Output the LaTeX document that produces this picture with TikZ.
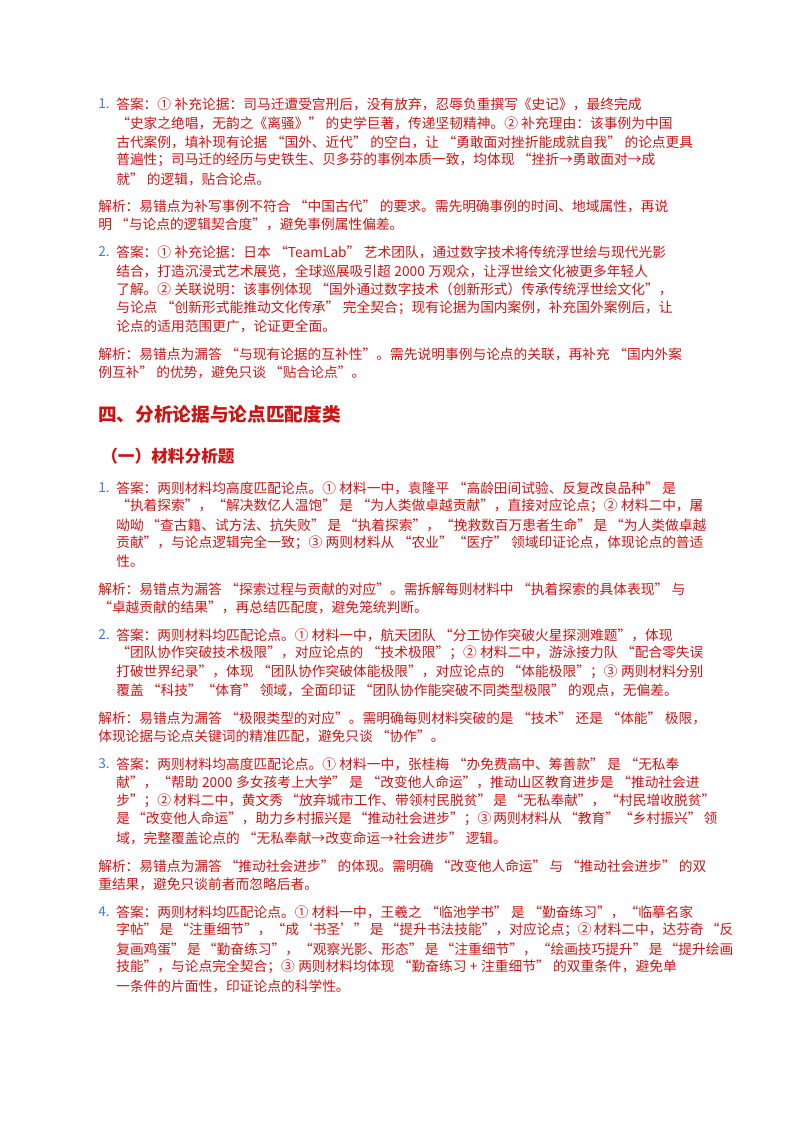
\documentclass[tikz,border=0pt]{standalone}
\usepackage{fontspec}
\usepackage{xcolor}
\setmainfont{Noto Sans CJK SC}
\XeTeXlinebreaklocale "zh"
\XeTeXlinebreakskip=0pt plus 3pt minus 1.2pt
\definecolor{ansred}{RGB}{204,20,20}
\definecolor{numblue}{RGB}{66,120,230}
\newcommand{\fa}[1]{\hbox to 442.5pt{\spaceskip=2.6pt minus 1pt\relax #1}}
\newcommand{\fj}[1]{\hbox to 456pt{\spaceskip=2.6pt minus 1pt\relax #1}}
\tikzset{txt/.style={anchor=west,inner sep=0pt,text=ansred,font=\fontsize{10.3}{12}\selectfont},
  num/.style={txt,text=numblue},
  head/.style={anchor=west,inner sep=0pt,text=ansred,font=\fontsize{14}{16}\selectfont\bfseries}}
\begin{document}
\begin{tikzpicture}[x=0.75pt,y=-0.75pt]
\useasboundingbox (0,0) rectangle (800,1132);
% answer 1
\node[num] (n1) at (98,104) {1.};
\node[txt] (a1) at (116,104) {\fa{答案：① 补充论据：司马迁遭受宫刑后，没有放弃，忍辱负重撰写《史记》，最终完成}};
\node[txt] (a2) at (116,123) {\fa{“史家之绝唱，无韵之《离骚》” 的史学巨著，传递坚韧精神。② 补充理由：该事例为中国}};
\node[txt] (a3) at (116,142) {\fa{古代案例，填补现有论据 “国外、近代” 的空白，让 “勇敢面对挫折能成就自我” 的论点更具}};
\node[txt] (a4) at (116,160) {\fa{普遍性；司马迁的经历与史铁生、贝多芬的事例本质一致，均体现 “挫折→勇敢面对→成}};
\node[txt] (a5) at (116,179) {就” 的逻辑，贴合论点。};
\node[txt] (j1) at (98,206) {\fj{解析：易错点为补写事例不符合 “中国古代” 的要求。需先明确事例的时间、地域属性，再说}};
\node[txt] (j2) at (98,224) {明 “与论点的逻辑契合度”，避免事例属性偏差。};
% answer 2
\node[num] (n2) at (98,252) {2.};
\node[txt] (b1) at (116,252) {\fa{答案：① 补充论据：日本 “TeamLab” 艺术团队，通过数字技术将传统浮世绘与现代光影}};
\node[txt] (b2) at (116,271) {\fa{结合，打造沉浸式艺术展览，全球巡展吸引超 2000 万观众，让浮世绘文化被更多年轻人}};
\node[txt] (b3) at (116,289) {\fa{了解。② 关联说明：该事例体现 “国外通过数字技术（创新形式）传承传统浮世绘文化”，}};
\node[txt] (b4) at (116,308) {\fa{与论点 “创新形式能推动文化传承” 完全契合；现有论据为国内案例，补充国外案例后，让}};
\node[txt] (b5) at (116,326) {论点的适用范围更广，论证更全面。};
\node[txt] (k1) at (98,354) {\fj{解析：易错点为漏答 “与现有论据的互补性”。需先说明事例与论点的关联，再补充 “国内外案}};
\node[txt] (k2) at (98,372) {例互补” 的优势，避免只谈 “贴合论点”。};
% headings
\node[head] (h1) at (98,414) {四、分析论据与论点匹配度类};
\node[head,font=\fontsize{12.5}{14}\selectfont\bfseries] (h2) at (101,456) {（一）材料分析题};
% answer 3
\node[num] (n3) at (98,488) {1.};
\node[txt] (c1) at (116,488) {\fa{答案：两则材料均高度匹配论点。① 材料一中，袁隆平 “高龄田间试验、反复改良品种” 是}};
\node[txt] (c2) at (116,506) {\fa{“执着探索”，“解决数亿人温饱” 是 “为人类做卓越贡献”，直接对应论点；② 材料二中，屠}};
\node[txt] (c3) at (116,525) {\fa{呦呦 “查古籍、试方法、抗失败” 是 “执着探索”，“挽救数百万患者生命” 是 “为人类做卓越}};
\node[txt] (c4) at (116,543) {\fa{贡献”，与论点逻辑完全一致；③ 两则材料从 “农业”“医疗” 领域印证论点，体现论点的普适}};
\node[txt] (c5) at (116,561) {性。};
\node[txt] (m1) at (98,589) {\fj{解析：易错点为漏答 “探索过程与贡献的对应”。需拆解每则材料中 “执着探索的具体表现” 与}};
\node[txt] (m2) at (98,607) {“卓越贡献的结果”，再总结匹配度，避免笼统判断。};
% answer 4
\node[num] (n4) at (98,635) {2.};
\node[txt] (d1) at (116,635) {\fa{答案：两则材料均匹配论点。① 材料一中，航天团队 “分工协作突破火星探测难题”，体现}};
\node[txt] (d2) at (116,653) {\fa{“团队协作突破技术极限”，对应论点的 “技术极限”；② 材料二中，游泳接力队 “配合零失误}};
\node[txt] (d3) at (116,672) {\fa{打破世界纪录”，体现 “团队协作突破体能极限”，对应论点的 “体能极限”；③ 两则材料分别}};
\node[txt] (d4) at (116,690) {覆盖 “科技”“体育” 领域，全面印证 “团队协作能突破不同类型极限” 的观点，无偏差。};
\node[txt] (p1) at (98,718) {\fj{解析：易错点为漏答 “极限类型的对应”。需明确每则材料突破的是 “技术” 还是 “体能” 极限，}};
\node[txt] (p2) at (98,736) {体现论据与论点关键词的精准匹配，避免只谈 “协作”。};
% answer 5
\node[num] (n5) at (98,764) {3.};
\node[txt] (e1) at (116,764) {\fa{答案：两则材料均高度匹配论点。① 材料一中，张桂梅 “办免费高中、筹善款” 是 “无私奉}};
\node[txt] (e2) at (116,782) {\fa{献”，“帮助 2000 多女孩考上大学” 是 “改变他人命运”，推动山区教育进步是 “推动社会进}};
\node[txt] (e3) at (116,801) {\fa{步”；② 材料二中，黄文秀 “放弃城市工作、带领村民脱贫” 是 “无私奉献”，“村民增收脱贫”}};
\node[txt] (e4) at (116,819) {\fa{是 “改变他人命运”，助力乡村振兴是 “推动社会进步”；③ 两则材料从 “教育”“乡村振兴” 领}};
\node[txt] (e5) at (116,838) {域，完整覆盖论点的 “无私奉献→改变命运→社会进步” 逻辑。};
\node[txt] (q1) at (98,866) {\fj{解析：易错点为漏答 “推动社会进步” 的体现。需明确 “改变他人命运” 与 “推动社会进步” 的双}};
\node[txt] (q2) at (98,884) {重结果，避免只谈前者而忽略后者。};
% answer 6
\node[num] (n6) at (98,912) {4.};
\node[txt] (f1) at (116,912) {\fa{答案：两则材料均匹配论点。① 材料一中，王羲之 “临池学书” 是 “勤奋练习”，“临摹名家}};
\node[txt] (f2) at (116,930) {\fa{字帖” 是 “注重细节”，“成‘书圣’” 是 “提升书法技能”，对应论点；② 材料二中，达芬奇 “反}};
\node[txt] (f3) at (116,949) {\fa{复画鸡蛋” 是 “勤奋练习”，“观察光影、形态” 是 “注重细节”，“绘画技巧提升” 是 “提升绘画}};
\node[txt] (f4) at (116,967) {\fa{技能”，与论点完全契合；③ 两则材料均体现 “勤奋练习 + 注重细节” 的双重条件，避免单}};
\node[txt] (f5) at (116,986) {一条件的片面性，印证论点的科学性。};
\end{tikzpicture}
\end{document}
